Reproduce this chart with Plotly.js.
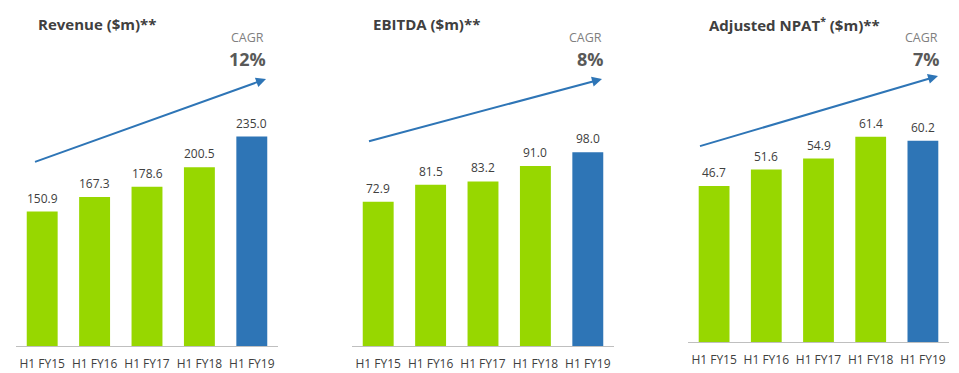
<!DOCTYPE html>
<html>
<head>
<meta charset="utf-8">
<script src="https://cdn.plot.ly/plotly-3.0.1.min.js"></script>
<style>
html,body{margin:0;padding:0;background:#fff;}
#chart{width:959px;height:373px;}
</style>
</head>
<body>
<div id="chart"></div>
<script>
// ---- data ----
const categories = ["H1 FY15", "H1 FY16", "H1 FY17", "H1 FY18", "H1 FY19"];
const revenue = [150.9, 167.3, 178.6, 200.5, 235.0];
const ebitda = [72.9, 81.5, 83.2, 91.0, 98.0];
const npat = [46.7, 51.6, 54.9, 61.4, 60.2];
const panelTitles = ["Revenue ($m)**", "EBITDA ($m)**", "Adjusted NPAT<sup>*</sup> ($m)**"];
const cagrValues = ["12%", "8%", "7%"];

const GREEN = "#97D700";
const BLUE = "#2E75B6";
const TXT = "#404040";
const FONT = "Open Sans, sans-serif";

const W = 959, H = 373;
const px = x => x / W;
const py = y => 1 - y / H;

const panels = [
  {vals: revenue, xd: [16, 278], yd: [80, 346], range: 298.5, title: [36, 24], cagr: [266, 38], arrow: [[32, 163], [266, 79]]},
  {vals: ebitda,  xd: [352, 614], yd: [80, 346], range: 134.5, title: [371, 24], cagr: [604, 38], arrow: [[366, 142], [602, 79]]},
  {vals: npat,    xd: [688, 949], yd: [80, 342], range: 78.4, title: [707, 24], cagr: [940, 38], arrow: [[697, 147], [938, 76]]}
];

const traces = [];
const annotations = [];
const layout = {
  width: W, height: H,
  margin: {l: 0, r: 0, t: 0, b: 0},
  paper_bgcolor: "#fff", plot_bgcolor: "#fff",
  showlegend: false,
  bargap: 0.41,
  font: {family: FONT, color: TXT, size: 12},
  annotations: annotations
};

panels.forEach((p, i) => {
  const n = i === 0 ? "" : String(i + 1);
  const colors = categories.map((c, k) => k === categories.length - 1 ? BLUE : GREEN);
  traces.push({
    type: "bar", x: categories, y: p.vals,
    xaxis: "x" + n, yaxis: "y" + n,
    marker: {color: colors},
    hoverinfo: "none"
  });
  layout["xaxis" + n] = {
    domain: [px(p.xd[0]), px(p.xd[1])],
    anchor: "y" + n,
    showline: true, linecolor: "#BFBFBF", linewidth: 1,
    ticks: "", showgrid: false, zeroline: false,
    ticklabelstandoff: 7,
    tickfont: {family: FONT, size: 12, color: TXT},
    fixedrange: true
  };
  layout["yaxis" + n] = {
    domain: [py(p.yd[1]), py(p.yd[0])],
    anchor: "x" + n,
    range: [0, p.range],
    visible: false, showgrid: false, zeroline: false,
    fixedrange: true
  };
  // value labels
  categories.forEach((c, k) => {
    annotations.push({
      xref: "x" + n, yref: "y" + n, x: c, y: p.vals[k],
      text: p.vals[k].toFixed(1), showarrow: false,
      yanchor: "bottom", yshift: 3,
      font: {family: FONT, size: 12, color: TXT}
    });
  });
  // panel title
  annotations.push({
    xref: "paper", yref: "paper", x: px(p.title[0]), y: py(p.title[1]),
    xanchor: "left", yanchor: "middle",
    text: "<b>" + panelTitles[i] + "</b>", showarrow: false,
    font: {family: FONT, size: 15, color: TXT}
  });
  // CAGR
  annotations.push({
    xref: "paper", yref: "paper", x: px(p.cagr[0]), y: py(p.cagr[1]),
    xanchor: "right", yanchor: "middle",
    text: "CAGR", showarrow: false,
    font: {family: FONT, size: 12.5, color: "#7F7F7F"}
  });
  annotations.push({
    xref: "paper", yref: "paper", x: px(p.cagr[0] + 2), y: py(p.cagr[1] + 21),
    xanchor: "right", yanchor: "middle",
    text: "<b>" + cagrValues[i] + "</b>", showarrow: false,
    font: {family: FONT, size: 18, color: "#595959"}
  });
  // trend arrow
  const [t, h] = p.arrow;
  annotations.push({
    xref: "paper", yref: "paper", x: px(h[0]), y: py(h[1]),
    axref: "pixel", ayref: "pixel", ax: t[0] - h[0], ay: t[1] - h[1],
    text: " ", showarrow: true, arrowhead: 2, arrowsize: 1, arrowwidth: 2,
    arrowcolor: BLUE, standoff: 0, startstandoff: 0
  });
});

Plotly.newPlot("chart", traces, layout, {displayModeBar: false, staticPlot: true});
</script>
</body>
</html>
